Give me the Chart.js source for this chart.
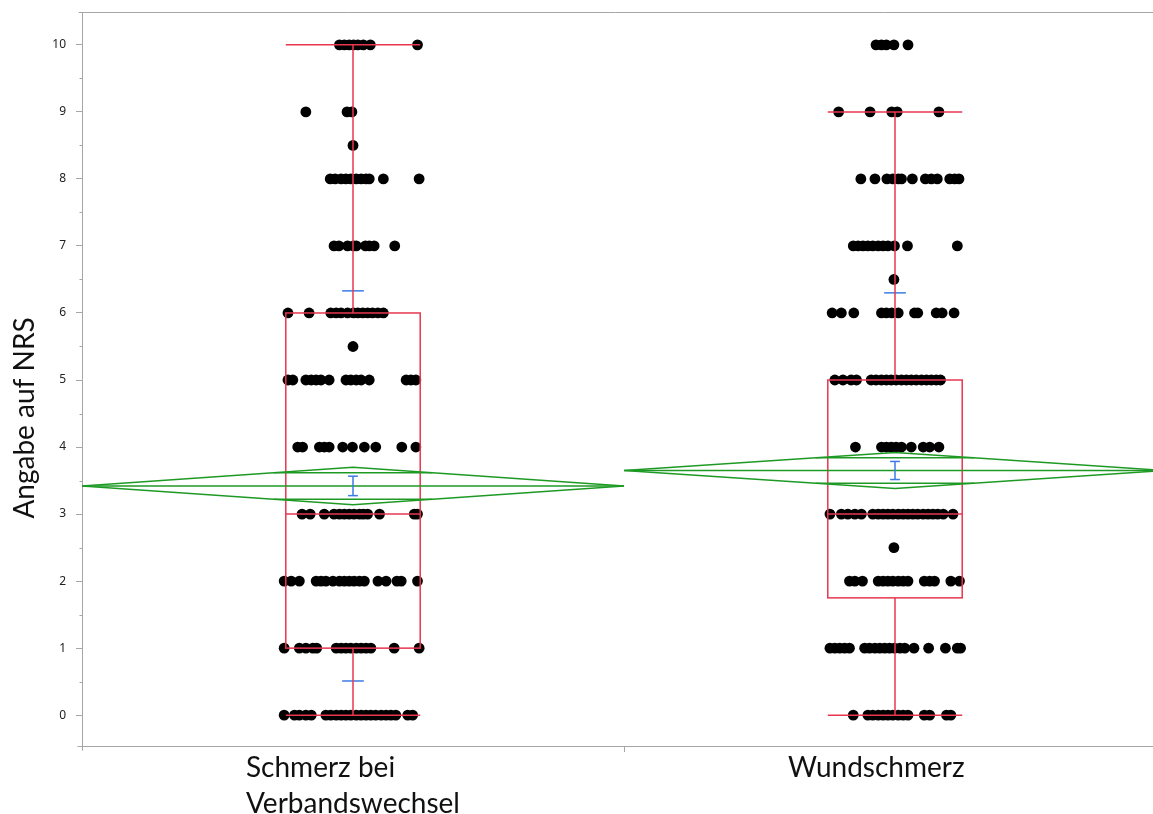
<!DOCTYPE html>
<html>
<head>
<meta charset="utf-8">
<script src="https://cdn.jsdelivr.net/npm/chart.js@4.4.1/dist/chart.umd.min.js"></script>
<style>
  html, body { margin: 0; padding: 0; background: #fff; }
  #wrap { width: 1153px; height: 814px; position: relative; }
</style>
</head>
<body>
<div id="wrap"><canvas id="nrs"></canvas></div>
<script>
"use strict";

// Groups on the x axis (label lines)
const categories = [['Schmerz bei', 'Verbandswechsel'], ['Wundschmerz']];
const yTicks = [0, 1, 2, 3, 4, 5, 6, 7, 8, 9, 10];

// NRS answers: [score, horizontal jitter of each answer in per mille of the group width]
const verbandswechsel = [
    [10, [-25, -16, -7, 1, 9, 19, 32, 119]],
    [9, [-87, -11, -2]],
    [8.5, [0]],
    [8, [-42, -33, -22, -13, -4, 6, 15, 24, 30, 56, 122]],
    [7, [-35, -26, -10, 1, 6, 23, 30, 39, 77]],
    [6, [-120, -81, -41, -31, -22, -10, 1, 9, 18, 27, 36, 46, 56]],
    [5.5, [0]],
    [5, [-120, -111, -87, -77, -68, -59, -44, -13, -4, 6, 15, 30, 98, 107, 116]],
    [4, [-102, -93, -62, -53, -44, -19, -1, 21, 42, 90, 116]],
    [3, [-94, -79, -53, -35, -25, -16, -7, 2, 12, 19, 27, 49, 113, 119]],
    [2, [-127, -114, -99, -68, -59, -50, -37, -25, -16, -7, 2, 12, 21, 46, 61, 81, 89, 119]],
    [1, [-127, -99, -87, -74, -67, -31, -22, -13, -4, 6, 15, 24, 33, 76, 122]],
    [0, [-127, -108, -99, -87, -77, -50, -41, -31, -22, -13, -4, 6, 15, 24, 33, 42, 52, 61, 70, 79, 101, 110]]
];
const wundschmerz = [
    [10, [-35, -25, -16, -2, 24]],
    [9, [-104, -46, -6, 4, 81]],
    [8, [-63, -37, -15, -4, 6, 12, 32, 56, 67, 78, 101, 110, 118]],
    [7, [-77, -68, -59, -50, -41, -31, -22, -13, -1, 23, 115]],
    [6.5, [-2]],
    [6, [-116, -99, -76, -25, -16, -6, 6, 36, 42, 76, 87, 109]],
    [5, [-111, -96, -81, -71, -44, -35, -25, -16, -7, 2, 12, 21, 30, 39, 49, 58, 67, 76, 84]],
    [4, [-73, -25, -16, -7, 2, 12, 30, 52, 64, 81]],
    [3, [-120, -99, -87, -74, -62, -41, -31, -22, -13, -4, 6, 15, 24, 33, 42, 52, 61, 70, 79, 89, 107]],
    [2.5, [-2]],
    [2, [-84, -74, -60, -31, -22, -13, -4, 6, 15, 24, 54, 64, 73, 103, 119]],
    [1, [-120, -111, -102, -93, -84, -56, -47, -37, -28, -19, -10, -1, 9, 18, 35, 62, 93, 115, 121]],
    [0, [-77, -50, -41, -31, -22, -13, -4, 6, 15, 24, 54, 64, 95, 103]]
];

// Summary statistics per group
const quartile1 = [1, 1.75];
const medians = [3, 3];
const quartile3 = [6, 5];
const whiskerLow = [0, 0];
const whiskerHigh = [10, 9];
const means = [3.42, 3.65];
const stdErr = [0.145, 0.135];
const ci95 = [0.28, 0.27];
const stdDev = [2.91, 2.65];

const RED = '#e8374f';
const GREEN = '#1e9a24';
const BLUE = '#3b7be6';
const AXIS = '#a6a6a6';

const toPoints = (rows, center) => {
    const pts = [];
    rows.forEach(([score, jitter]) => {
        jitter.forEach(j => pts.push({ x: center + j / 1000, y: score }));
    });
    return pts;
};

const noPadding = (scale) => {
    scale.paddingLeft = 0;
    scale.paddingRight = 0;
    scale.paddingTop = 0;
    scale.paddingBottom = 0;
};

const helpers = (chart) => {
    const { ctx } = chart;
    const xs = chart.scales.x, ys = chart.scales.y;
    const px = v => xs.getPixelForValue(v);
    const py = v => ys.getPixelForValue(v);
    const hline = (x0, x1, y) => { ctx.beginPath(); ctx.moveTo(px(x0), py(y)); ctx.lineTo(px(x1), py(y)); ctx.stroke(); };
    const vline = (x, y0, y1) => { ctx.beginPath(); ctx.moveTo(px(x), py(y0)); ctx.lineTo(px(x), py(y1)); ctx.stroke(); };
    return { ctx, px, py, hline, vline, ys };
};

// std dev marks sit underneath the points
const stdDevPlugin = {
    id: 'stdDev',
    beforeDatasetsDraw(chart) {
        const { ctx, hline } = helpers(chart);
        ctx.save();
        ctx.strokeStyle = BLUE;
        ctx.lineWidth = 1.5;
        categories.forEach((_, i) => {
            const c = i + 1;
            hline(c - 0.02, c + 0.02, means[i] + stdDev[i]);
            hline(c - 0.02, c + 0.02, means[i] - stdDev[i]);
        });
        ctx.restore();
    }
};

// box plot, mean diamonds and error bars over the points
const summaryPlugin = {
    id: 'summary',
    afterDatasetsDraw(chart) {
        const { chartArea } = chart;
        const { ctx, px, py, hline, vline, ys } = helpers(chart);

        ctx.save();
        ctx.beginPath();
        ctx.rect(chartArea.left, chartArea.top - 2, chart.width - chartArea.left, chartArea.bottom - chartArea.top + 4);
        ctx.clip();

        categories.forEach((_, i) => {
            const c = i + 1;
            const bw = 0.124;

            // box and whiskers
            ctx.strokeStyle = RED;
            ctx.lineWidth = 1.5;
            ctx.strokeRect(px(c - bw), py(quartile3[i]), px(c + bw) - px(c - bw), py(quartile1[i]) - py(quartile3[i]));
            hline(c - bw, c + bw, medians[i]);
            vline(c, quartile3[i], whiskerHigh[i]);
            vline(c, quartile1[i], whiskerLow[i]);
            hline(c - bw, c + bw, whiskerHigh[i]);
            hline(c - bw, c + bw, whiskerLow[i]);

            // mean diamond with overlap marks
            const m = means[i], h = ci95[i], o = h / Math.SQRT2;
            const ow = 0.5 * (1 - o / h);
            ctx.strokeStyle = GREEN;
            ctx.lineWidth = 1.5;
            ctx.beginPath();
            ctx.moveTo(px(c - 0.5), py(m));
            ctx.lineTo(px(c), py(m + h));
            ctx.lineTo(px(c + 0.5), py(m));
            ctx.lineTo(px(c), py(m - h));
            ctx.closePath();
            ctx.stroke();
            hline(c - 0.5, c + 0.5, m);
            hline(c - ow, c + ow, m + o);
            hline(c - ow, c + ow, m - o);

            // standard error bar
            ctx.strokeStyle = BLUE;
            ctx.lineWidth = 1.5;
            const cw = 0.009;
            vline(c, m - stdErr[i], m + stdErr[i]);
            hline(c - cw, c + cw, m + stdErr[i]);
            hline(c - cw, c + cw, m - stdErr[i]);
        });
        ctx.restore();

        // frame line on top and small stubs at the axis corners
        ctx.save();
        ctx.strokeStyle = AXIS;
        ctx.lineWidth = 1;
        const L = Math.round(chartArea.left) + 0.5, T = Math.round(chartArea.top) + 0.5, B = Math.round(chartArea.bottom) + 0.5;
        ctx.beginPath();
        ctx.moveTo(L - 4, T);
        ctx.lineTo(chart.width, T);
        ctx.moveTo(L - 5, B);
        ctx.lineTo(L, B);
        ctx.lineTo(L, B + 4);
        ctx.stroke();

        // minor ticks every half point
        ctx.beginPath();
        for (let v = 0.5; v < ys.max; v += 1) {
            const y = Math.round(py(v)) + 0.5;
            ctx.moveTo(L - 3, y);
            ctx.lineTo(L, y);
        }
        ctx.stroke();

        // group labels, left aligned in a block centred on each group
        ctx.fillStyle = '#111';
        ctx.font = '28px Lato, sans-serif';
        ctx.textAlign = 'left';
        ctx.textBaseline = 'alphabetic';
        categories.forEach((lines, i) => {
            const left = px(i + 1) - 107;
            lines.forEach((t, k) => ctx.fillText(t, left, 777 + k * 36));
        });

        // y axis title
        ctx.translate(34, 418);
        ctx.rotate(-Math.PI / 2);
        ctx.textAlign = 'center';
        ctx.fillText('Angabe auf NRS', 0, 0);
        ctx.restore();
    }
};

// the second group runs on past the right edge of the canvas
const xMax = 0.5 + 2 * (1153 - 82) / 1084;

new Chart(document.getElementById('nrs'), {
    type: 'scatter',
    data: {
        datasets: [
            { data: toPoints(verbandswechsel, 1), backgroundColor: '#000', borderColor: '#000', pointRadius: 5.4, borderWidth: 0 },
            { data: toPoints(wundschmerz, 2), backgroundColor: '#000', borderColor: '#000', pointRadius: 5.4, borderWidth: 0 }
        ]
    },
    options: {
        responsive: true,
        maintainAspectRatio: false,
        animation: false,
        layout: { autoPadding: false, padding: { top: 12, right: 0, left: 0, bottom: 0 } },
        plugins: { legend: { display: false }, tooltip: { enabled: false } },
        scales: {
            x: {
                type: 'linear',
                min: 0.5,
                max: xMax,
                afterFit(scale) {
                    scale.height = 68;
                    noPadding(scale);
                },
                afterBuildTicks(scale) { scale.ticks = [{ value: 1.5 }]; },
                ticks: { callback: () => '' },
                grid: { drawOnChartArea: false, tickLength: 6, color: AXIS },
                border: { display: true, color: AXIS }
            },
            y: {
                min: -0.46,
                max: 10.49,
                afterFit(scale) {
                    scale.width = 82;
                    noPadding(scale);
                },
                afterBuildTicks(scale) { scale.ticks = yTicks.map(v => ({ value: v })); },
                ticks: { padding: 10, color: '#222', font: { family: 'Noto Sans', size: 12 } },
                grid: { drawOnChartArea: false, tickLength: 6, color: AXIS },
                border: { display: true, color: AXIS }
            }
        }
    },
    plugins: [stdDevPlugin, summaryPlugin]
});
</script>
</body>
</html>
